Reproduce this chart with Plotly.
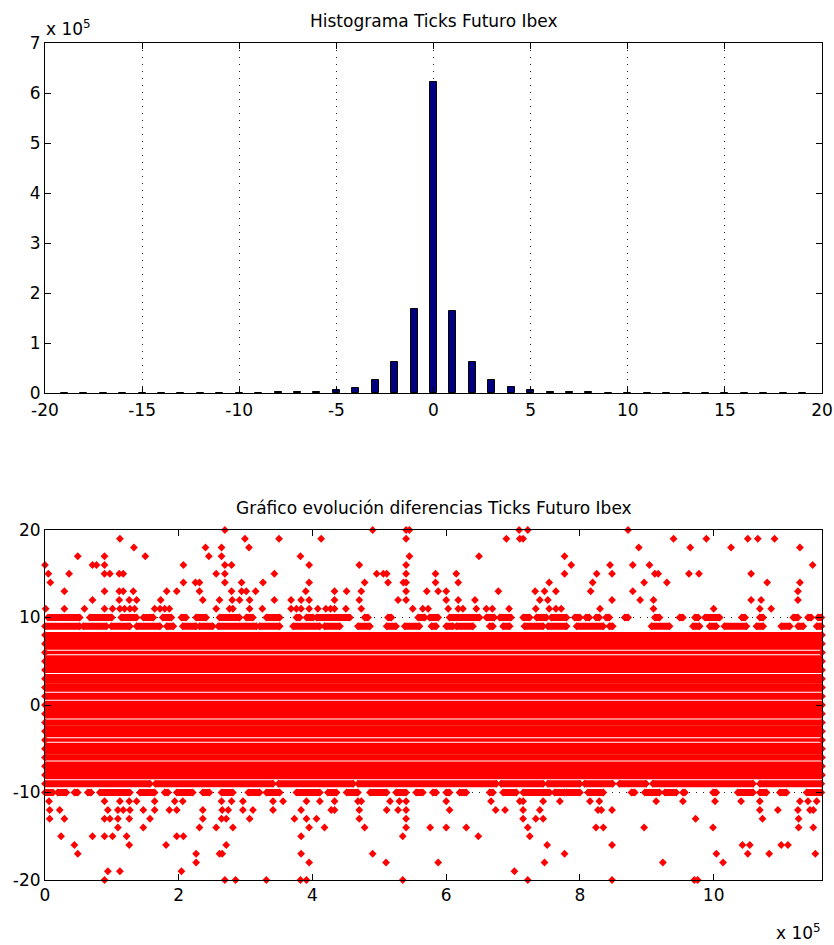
import plotly.graph_objects as go

# ---------------- DATA ----------------
# Histogram (top): bin centres and counts
hist_bins = list(range(-19, 20))
hist_counts = [150, 150, 150, 200, 200, 250, 300, 350, 400, 600, 800, 1200, 1800, 2600,
               6500, 10000, 27000, 63000, 168000, 623000, 165000, 63000, 26000, 13000, 6500,
               2600, 1800, 1200, 800, 600, 400, 350, 300, 250, 200, 200, 150, 150, 150]

# Scatter (bottom): number of ticks (x axis length, in units of 1e5)
n_ticks_e5 = 11.62

# Levels that are practically continuous along the whole series
dense_levels = [8, 7, 6, 5, 4, 3, 2, 1, 0, -1, -2, -3, -4, -5, -6, -7, -8]

# Semi-dense levels: runs of consecutive points [start, end] (x in 1e5)
runs_p10 = [[0.045, 0.52], [0.67, 1.0], [1.14, 1.37], [1.47, 1.62], [1.76, 1.89], [2.04, 2.11],
            [2.26, 2.41], [2.61, 2.91], [3.01, 3.11], [3.31, 3.51], [3.76, 3.81], [3.91, 4.01],
            [4.06, 4.56], [4.78, 4.83], [5.13, 5.18], [5.58, 5.68], [5.75, 5.88], [6.05, 6.50],
            [6.60, 6.72], [6.80, 6.97], [7.15, 7.25], [7.35, 7.50], [7.57, 7.80], [7.92, 8.00],
            [8.09, 8.14], [8.24, 8.29], [8.39, 8.44], [8.67, 8.72], [9.12, 9.19], [9.49, 9.54],
            [9.72, 9.77], [9.87, 10.09], [10.42, 10.47], [10.69, 10.74], [11.19, 11.26],
            [11.41, 11.46], [11.56, 11.61]]
runs_p9 = [[0.0, 0.52], [0.57, 0.92], [0.99, 1.27], [1.37, 1.72], [1.82, 1.92], [2.06, 2.26],
           [2.31, 2.51], [2.59, 3.16], [3.21, 3.51], [3.71, 4.11], [4.18, 4.41], [4.68, 4.86],
           [5.11, 5.25], [5.38, 5.60], [5.78, 5.85], [6.00, 6.10], [6.15, 6.40], [6.65, 6.70],
           [6.85, 6.95], [7.17, 7.45], [7.52, 7.80], [7.95, 8.35], [8.44, 8.49], [9.07, 9.34],
           [9.69, 9.79], [9.94, 10.04], [10.16, 10.49], [10.64, 10.74], [11.01, 11.14],
           [11.26, 11.34], [11.54, 11.61]]
runs_m9 = [[0.0, 1.57], [1.65, 3.41], [3.49, 4.61], [4.68, 6.75], [6.82, 7.45], [7.52, 8.0],
           [8.07, 8.49], [8.59, 8.99], [9.09, 10.59], [10.69, 11.61]]
runs_m10 = [[0.0, 0.12], [0.19, 0.32], [0.44, 0.49], [0.64, 0.69], [0.82, 1.27], [1.42, 1.64],
            [1.79, 1.84], [1.97, 2.21], [2.36, 2.46], [2.64, 2.81], [3.04, 3.21], [3.31, 3.51],
            [3.76, 4.11], [4.23, 4.36], [4.51, 4.68], [4.86, 5.11], [5.25, 5.40], [5.55, 5.65],
            [5.80, 5.85], [6.00, 6.05], [6.20, 6.30], [6.65, 6.70], [6.85, 7.05], [7.15, 7.55],
            [7.62, 7.77], [7.80, 8.00], [8.12, 8.35], [8.77, 8.82], [8.97, 9.19], [9.27, 9.44],
            [9.54, 9.57], [9.99, 10.04], [10.36, 10.59], [10.69, 10.79], [10.99, 11.09],
            [11.39, 11.61]]
run_levels = [10, 9, -9, -10]

# Isolated points (x in 1e5) per level
pts_p20 = [2.69, 4.90, 5.40, 5.45, 7.09, 7.22, 8.72]
pts_p19 = [1.12, 2.99, 3.50, 4.13, 5.40, 6.90, 7.10, 7.15, 9.40, 9.89, 10.51, 10.66, 10.91]
pts_p18 = [1.33, 2.40, 2.64, 3.05, 8.88, 9.65, 10.26, 11.29]
pts_p17 = [0.49, 0.89, 1.50, 2.45, 2.64, 3.82, 5.45, 6.49, 7.77]
pts_p16 = [0.0, 0.71, 0.77, 0.89, 2.07, 2.69, 2.79, 3.95, 4.70, 5.40, 7.87, 8.45, 8.79, 9.04, 11.48]
pts_p15 = [0.05, 0.36, 0.89, 0.97, 1.11, 1.17, 2.56, 2.69, 3.43, 4.96, 5.06, 5.11, 5.40, 5.84,
           6.15, 7.77, 8.25, 8.48, 9.12, 9.17, 9.63, 9.78, 10.56]
pts_p14 = [0.08, 2.07, 2.25, 2.31, 2.69, 2.94, 3.26, 3.95, 4.78, 5.13, 5.36, 5.40, 5.84, 6.18,
           7.54, 8.19, 8.96, 9.30, 10.80, 11.29]
pts_p13 = [0.29, 0.89, 1.11, 1.17, 1.32, 1.82, 1.97, 2.31, 2.79, 2.94, 3.01, 3.15, 3.90, 4.33,
           4.51, 4.73, 5.40, 5.71, 5.88, 6.00, 6.78, 7.33, 7.47, 7.64, 8.16, 8.79, 11.26]
pts_p12 = [0.71, 1.11, 1.26, 1.37, 1.73, 2.36, 2.61, 2.80, 2.91, 3.06, 3.43, 3.68, 3.83, 3.95,
           4.33, 4.70, 5.28, 5.40, 6.00, 6.18, 6.43, 7.40, 7.52, 8.48, 8.90, 9.10, 10.56, 10.71, 11.26]
pts_p11 = [0.01, 0.29, 0.59, 0.89, 1.01, 1.12, 1.19, 1.27, 1.34, 1.64, 1.72, 1.79, 1.86, 2.56,
           2.76, 2.81, 3.06, 3.25, 3.68, 3.76, 3.83, 3.95, 4.08, 4.20, 4.27, 4.33, 4.50, 4.73,
           5.50, 5.65, 5.73, 6.03, 6.18, 6.25, 6.45, 6.60, 6.69, 6.94, 7.34, 7.54, 7.64, 7.72,
           8.30, 9.10, 10.00, 10.69, 10.86]
pts_m11 = [0.06, 0.89, 1.12, 1.26, 1.37, 1.64, 1.94, 2.06, 2.64, 2.79, 2.96, 3.41, 3.56, 3.91,
           4.11, 4.33, 4.68, 4.73, 5.16, 5.30, 5.40, 6.00, 6.67, 7.10, 7.15, 7.45, 7.70, 8.15,
           8.29, 9.14, 9.54, 10.02, 10.41, 10.69, 11.29, 11.41, 11.54]
pts_m12 = [0.07, 0.22, 0.94, 1.09, 1.17, 1.27, 1.47, 1.64, 1.86, 1.97, 2.36, 2.65, 2.74, 2.96,
           3.11, 3.41, 3.83, 4.28, 4.33, 4.70, 5.11, 5.28, 5.40, 6.05, 6.74, 6.88, 7.15, 7.40,
           8.27, 8.32, 8.48, 10.69, 10.96, 11.26, 11.44, 11.49]
pts_m13 = [0.07, 0.29, 0.89, 0.97, 1.09, 1.26, 1.57, 2.36, 2.64, 2.71, 3.06, 3.73, 3.91, 4.06,
           4.70, 5.40, 7.15, 7.34, 7.45, 9.73, 10.73, 11.27]
pts_m14 = [1.09, 1.47, 2.31, 2.56, 2.81, 3.95, 4.18, 4.78, 5.40, 5.76, 6.00, 6.30, 7.22, 8.24,
           8.35, 8.96, 9.99, 11.27, 11.49]
pts_m15 = [0.24, 0.71, 0.89, 1.01, 1.22, 1.97, 2.07, 3.83, 5.35, 6.48, 7.25]
pts_m16 = [0.44, 1.26, 1.81, 2.71, 7.51, 8.48, 10.43, 10.54, 11.01, 11.11]
pts_m17 = [0.49, 2.26, 2.61, 2.65, 3.83, 4.90, 7.77, 10.04, 10.51, 10.83, 11.52]
pts_m18 = [2.26, 3.95, 5.10, 5.88, 7.47, 9.24, 10.14]
pts_m19 = [0.94, 1.12, 2.04, 7.02]
pts_m20 = [0.89, 2.69, 2.85, 3.31, 3.82, 3.91, 5.35, 7.22, 8.48, 9.71, 9.76]

point_levels = {20: pts_p20, 19: pts_p19, 18: pts_p18, 17: pts_p17, 16: pts_p16, 15: pts_p15,
                14: pts_p14, 13: pts_p13, 12: pts_p12, 11: pts_p11, -11: pts_m11, -12: pts_m12,
                -13: pts_m13, -14: pts_m14, -15: pts_m15, -16: pts_m16, -17: pts_m17,
                -18: pts_m18, -19: pts_m19, -20: pts_m20}
run_lists = {10: runs_p10, 9: runs_p9, -9: runs_m9, -10: runs_m10}

hist_xticks = [-20, -15, -10, -5, 0, 5, 10, 15, 20]
hist_yticks = [0, 1, 2, 3, 4, 5, 6, 7]
scat_xticks = [0, 2, 4, 6, 8, 10]
scat_yticks = [-20, -10, 0, 10, 20]

# ---------------- STYLE ----------------
W, H = 834, 945
RED = "#ff0000"
FONT = "DejaVu Sans"
# stroke width (px) of each dense row, in the order of dense_levels; chosen so that the
# thin white separation lines of the original rendering appear between the same rows
band_stroke_px = [6.0, 11.8, 3.6, 11.8, 6.0, 9.4, 8.4, 7.0, 8.4, 9.4, 6.0, 11.8, 3.6, 11.8,
                  6.0, 9.4, 8.4]

fig = go.Figure()

# Histogram bars (counts shown in units of 1e5)
fig.add_trace(go.Bar(
    x=hist_bins, y=[c / 1e5 for c in hist_counts], width=0.36,
    marker=dict(color="#000080", line=dict(color="black", width=1)),
    xaxis="x", yaxis="y", hoverinfo="skip"))

# dense levels: continuous rows
for lv, sw in zip(dense_levels, band_stroke_px):
    fig.add_trace(go.Scatter(
        x=[0, n_ticks_e5], y=[lv, lv], mode="lines+markers", line=dict(color=RED, width=sw),
        marker=dict(symbol="diamond", size=6, color=RED), cliponaxis=False,
        xaxis="x2", yaxis="y2", hoverinfo="skip"))

# semi-dense levels: runs
rx, ry = [], []
for lv in run_levels:
    for a, b in run_lists[lv]:
        rx += [a, b, None]
        ry += [lv, lv, None]
fig.add_trace(go.Scatter(
    x=rx, y=ry, mode="lines+markers", line=dict(color=RED, width=7),
    marker=dict(symbol="diamond", size=6, color=RED), cliponaxis=False,
    xaxis="x2", yaxis="y2", hoverinfo="skip"))

# isolated points
px_, py_ = [], []
for lv, xs in point_levels.items():
    px_ += xs
    py_ += [lv] * len(xs)
fig.add_trace(go.Scatter(
    x=px_, y=py_, mode="markers",
    marker=dict(symbol="diamond", size=6, color=RED), cliponaxis=False,
    xaxis="x2", yaxis="y2", hoverinfo="skip"))

L, R = 45 / W, 822 / W
top_dom = [1 - 393 / H, 1 - 43 / H]
bot_dom = [1 - 880 / H, 1 - 530 / H]

axis_common = dict(showline=True, linecolor="black", linewidth=1, mirror="ticks",
                   ticks="inside", ticklen=6, tickwidth=1, tickcolor="black",
                   zeroline=False, automargin=False,
                   tickfont=dict(family=FONT, size=17, color="black"))
grid = dict(showgrid=True, gridcolor="#222222", gridwidth=1, griddash="1px,6px")

def lab(v):
    return str(v).replace("\u2212", "-")

fig.update_layout(
    width=W, height=H, margin=dict(l=0, r=0, t=0, b=0, pad=0, autoexpand=False),
    paper_bgcolor="white", plot_bgcolor="white", showlegend=False,
    bargap=0,
    xaxis=dict(domain=[L, R], anchor="y", range=[-20, 20], tickvals=hist_xticks,
               ticktext=[lab(v) for v in hist_xticks], ticklabelstandoff=2,
               **grid, **axis_common),
    yaxis=dict(domain=top_dom, anchor="x", range=[0, 7], tickvals=hist_yticks,
               ticktext=[lab(v) for v in hist_yticks], showgrid=False, **axis_common),
    xaxis2=dict(domain=[L, R], anchor="y2", range=[0, n_ticks_e5], tickvals=scat_xticks,
                ticktext=[lab(v) for v in scat_xticks], showgrid=False, **axis_common),
    yaxis2=dict(domain=bot_dom, anchor="x2", range=[-20, 20], tickvals=scat_yticks,
                ticktext=[lab(v) for v in scat_yticks], **grid, **axis_common),
)

ann_font = dict(family=FONT, size=17, color="black")
fig.add_annotation(text="Histograma Ticks Futuro Ibex", xref="paper", yref="paper",
                   x=(L + R) / 2, y=1 - 21.5 / H, xanchor="center", yanchor="middle",
                   showarrow=False, font=ann_font)
fig.add_annotation(text="Gráfico evolución diferencias Ticks Futuro Ibex", xref="paper",
                   yref="paper", x=(L + R) / 2, y=1 - 508 / H, xanchor="center",
                   yanchor="middle", showarrow=False, font=ann_font)
fig.add_annotation(text="x 10<sup>5</sup>", xref="paper", yref="paper",
                   x=44 / W, y=1 - 41 / H, xanchor="left", yanchor="bottom",
                   showarrow=False, font=ann_font)
fig.add_annotation(text="x 10<sup>5</sup>", xref="paper", yref="paper",
                   x=823 / W, y=1 - 945 / H, xanchor="right", yanchor="bottom",
                   showarrow=False, font=ann_font)

fig.write_html("out.html")
